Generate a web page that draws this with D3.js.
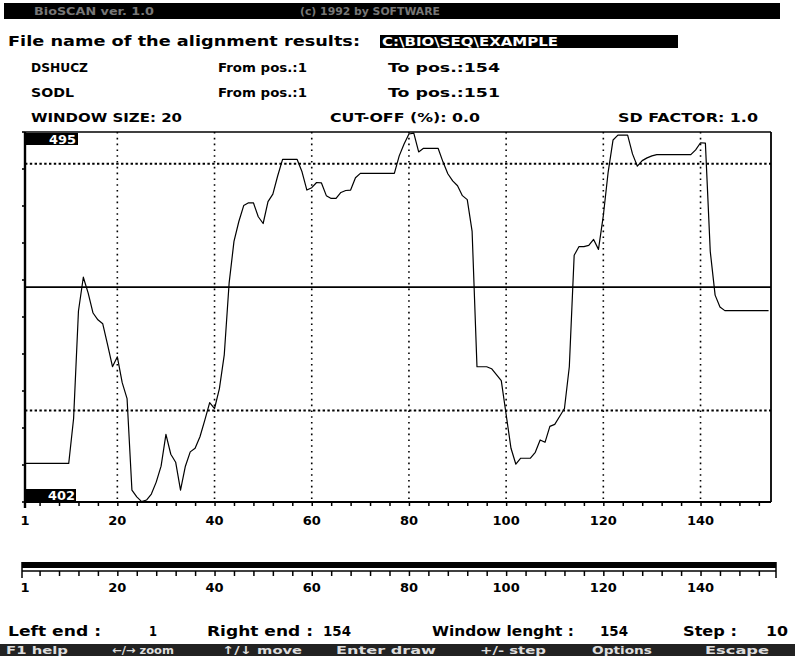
<!DOCTYPE html>
<html>
<head>
<meta charset="utf-8">
<script src="https://cdn.jsdelivr.net/npm/d3@7"></script>
<style>
html,body{margin:0;padding:0;background:#fff;}
svg{display:block;}
</style>
</head>
<body>
<svg id="chart" width="795" height="656"></svg>
<script>
// ---------- data ----------
const positions = d3.range(1, 155); // sequence positions 1..154
const values = [
 411.7,411.7,411.7,411.7,411.7,411.7,411.7,411.7,411.7,411.7,
 423,450,458.5,454.5,449.5,447.8,446.8,441.5,436,438.5,
 432,428,405,403.3,402.1,402.5,404,407,411,419,
 414,412,405,411,414.6,415.5,418.4,422.6,427,425.5,
 430.5,439,457,467.5,472.5,476.5,477.2,477.2,473.7,472,
 477.5,479.4,484,488.1,488.1,488.1,488.1,485,480.4,481,
 482.3,482.2,479,478.3,478.3,479.8,480.3,480.4,483.5,484.6,
 484.6,484.6,484.6,484.6,484.6,484.6,484.6,489,492,494.5,
 494.7,490,490.9,490.9,490.9,490.9,487.5,484.5,482.7,481.5,
 479,478,470,436,436,436,435.5,434,432.5,424,
 415.5,411.5,413,413,413,414.5,417.6,417,421,421.5,
 423.5,425.5,436,464,466.2,466.2,466.5,468,465.5,474,
 485,493,494.2,494.2,494.2,489.5,486.4,487.8,488.5,489,
 489.3,489.3,489.3,489.3,489.3,489.3,489.3,489.3,490.5,492.3,
 492.2,465,454,451,450.1,450.1,450.1,450.1,450.1,450.1,
 450.1,450.1,450.1,450.1
];
const yMin = 402, yMax = 495;
const meanValue = 456;
const sdValues = [425, 487];
const xTickLabels = [1, 20, 40, 60, 80, 100, 120, 140];
const xGridPositions = [20, 40, 60, 80, 100, 120, 140];

const headerLeft = "BioSCAN ver. 1.0";
const headerMid = "(c) 1992 by SOFTWARE";
const fileLabel = "File name of the alignment results:";
const fileName = "C:\\BIO\\SEQ\\EXAMPLE";
const seqNames = ["DSHUCZ", "SODL"];
const seqFrom = ["From pos.:1", "From pos.:1"];
const seqTo = ["To pos.:154", "To pos.:151"];
const paramTexts = ["WINDOW SIZE: 20", "CUT-OFF (%): 0.0", "SD FACTOR: 1.0"];
const statusTexts = ["Left end :", "1", "Right end :", "154", "Window lenght :", "154", "Step :", "10"];
const menuTexts = ["F1 help", "\u2190/\u2192 zoom", "\u2191/\u2193 move", "Enter draw", "+/- step", "Options", "Escape"];

// ---------- setup ----------
const svg = d3.select("#chart");
const FONT = "'DejaVu Sans', 'Liberation Sans', sans-serif";

function txt(g, x, y, s, w, size, fill, anchor) {
  const t = g.append("text")
    .attr("x", x).attr("y", y)
    .attr("font-family", FONT)
    .attr("font-weight", "bold")
    .attr("font-size", size || 13)
    .attr("fill", fill || "#000")
    .text(s);
  if (anchor) t.attr("text-anchor", anchor);
  if (w) t.attr("textLength", w).attr("lengthAdjust", "spacingAndGlyphs");
  return t;
}

const L = 25, R = 771, T = 132, B = 502;
const x = d3.scaleLinear().domain([1, 154.5]).range([L, R]);
const y = d3.scaleLinear().domain([yMin, yMax]).range([B, T]);

// ---------- header ----------
const hdr = svg.append("g");
hdr.append("rect").attr("x", 4).attr("y", 3).attr("width", 776).attr("height", 16).attr("fill", "#000");
txt(hdr, 34, 15, headerLeft, 120, 10, "#777");
txt(hdr, 300, 15, headerMid, 140, 10, "#777");

txt(hdr, 8, 46, fileLabel, 352, 14);
hdr.append("rect").attr("x", 380).attr("y", 35).attr("width", 298).attr("height", 13).attr("fill", "#000");
txt(hdr, 382, 46, fileName, 176, 12, "#fff");

const rowY = [72, 97];
const nameW = [57, 43];
seqNames.forEach((n, i) => {
  txt(hdr, 31, rowY[i], n, nameW[i], 13);
  txt(hdr, 218, rowY[i], seqFrom[i], 89, 13);
  txt(hdr, 388, rowY[i], seqTo[i], 112, 13);
});
txt(hdr, 31, 122, paramTexts[0], 151, 13);
txt(hdr, 330, 122, paramTexts[1], 150, 13);
txt(hdr, 618, 122, paramTexts[2], 140, 13);

// ---------- plot ----------
const plot = svg.append("g");

// vertical dotted grid
plot.selectAll("line.vg").data(xGridPositions).join("line")
  .attr("x1", d => x(d)).attr("x2", d => x(d))
  .attr("y1", T).attr("y2", B)
  .attr("stroke", "#000").attr("stroke-width", 1.6)
  .attr("stroke-dasharray", "1.6,4.2");

// sd dotted lines
plot.selectAll("line.sd").data(sdValues).join("line")
  .attr("x1", L).attr("x2", R)
  .attr("y1", d => y(d)).attr("y2", d => y(d))
  .attr("stroke", "#000").attr("stroke-width", 2)
  .attr("stroke-dasharray", "2.4,2.4");

// mean line
plot.append("line")
  .attr("x1", L).attr("x2", R)
  .attr("y1", y(meanValue)).attr("y2", y(meanValue))
  .attr("stroke", "#000").attr("stroke-width", 1.8);

// frame
plot.append("line").attr("x1", L).attr("x2", R).attr("y1", T).attr("y2", T).attr("stroke", "#000").attr("stroke-width", 1.6);
plot.append("line").attr("x1", R).attr("x2", R).attr("y1", T).attr("y2", B).attr("stroke", "#000").attr("stroke-width", 1.8);
plot.append("line").attr("x1", L).attr("x2", L).attr("y1", T).attr("y2", B + 6).attr("stroke", "#000").attr("stroke-width", 2.4);

// y ticks (left side)
const yTicks = d3.range(11).map(i => yMin + i * (yMax - yMin) / 10);
plot.selectAll("line.yt").data(yTicks).join("line")
  .attr("x1", L - 3).attr("x2", L)
  .attr("y1", d => y(d)).attr("y2", d => y(d))
  .attr("stroke", "#000").attr("stroke-width", 1.6);

// x axis
const xAxis = d3.axisBottom(x)
  .tickValues(d3.range(4, 155, 4))
  .tickSize(4)
  .tickFormat("");
const xa = plot.append("g").attr("transform", `translate(0,${B})`).call(xAxis);
xa.select(".domain").attr("stroke", "#000").attr("stroke-width", 2).attr("d", `M${L},0H${R}`);
xa.selectAll(".tick line").attr("stroke", "#000").attr("stroke-width", 1.5);

plot.selectAll("text.xl").data(xTickLabels).join("text")
  .attr("x", d => x(d))
  .attr("y", 525)
  .attr("text-anchor", "middle")
  .attr("font-family", FONT).attr("font-weight", "bold").attr("font-size", 13)
  .text(d => d);

// data line
const line = d3.line()
  .x((d, i) => x(positions[i]))
  .y(d => y(d));
plot.append("path")
  .datum(values)
  .attr("d", line)
  .attr("fill", "none")
  .attr("stroke", "#000")
  .attr("stroke-width", 1.2)
  .attr("stroke-linejoin", "round");

// y range labels
plot.append("rect").attr("x", L + 1).attr("y", T + 1).attr("width", 52).attr("height", 12).attr("fill", "#000");
txt(plot, L + 51, T + 12, String(yMax), 27, 12, "#fff", "end");
plot.append("rect").attr("x", L + 1).attr("y", B - 13).attr("width", 50).attr("height", 12).attr("fill", "#000");
txt(plot, L + 50, B - 2, String(yMin), 27, 12, "#fff", "end");

// ---------- lower scroll ruler ----------
const ruler = svg.append("g");
ruler.append("rect").attr("x", 22).attr("y", 562).attr("width", 754).attr("height", 6).attr("fill", "#000");
ruler.append("line").attr("x1", 22).attr("x2", 776).attr("y1", 571).attr("y2", 571).attr("stroke", "#000").attr("stroke-width", 1.5);
ruler.append("line").attr("x1", 22).attr("x2", 22).attr("y1", 562).attr("y2", 578).attr("stroke", "#000").attr("stroke-width", 1.5);
ruler.append("line").attr("x1", 776).attr("x2", 776).attr("y1", 562).attr("y2", 578).attr("stroke", "#000").attr("stroke-width", 1.5);
const rAxis = d3.axisBottom(x).tickValues(d3.range(4, 155, 4)).tickSize(5).tickFormat("");
const ra = ruler.append("g").attr("transform", "translate(0,571)").call(rAxis);
ra.select(".domain").remove();
ra.selectAll(".tick line").attr("stroke", "#000").attr("stroke-width", 1.5);
ruler.selectAll("text.rl").data(xTickLabels).join("text")
  .attr("x", d => x(d))
  .attr("y", 592)
  .attr("text-anchor", "middle")
  .attr("font-family", FONT).attr("font-weight", "bold").attr("font-size", 13)
  .text(d => d);

// ---------- status line ----------
const st = svg.append("g");
const stX = [8, 149, 207, 323, 432, 600, 683, 766];
const stW = [93, 8, 106, 28, 142, 28, 54, 22];
statusTexts.forEach((s, i) => txt(st, stX[i], 636, s, stW[i], 14));

// ---------- menu bar ----------
const mb = svg.append("g");
mb.append("rect").attr("x", 0).attr("y", 644).attr("width", 795).attr("height", 12).attr("fill", "#222");
const mX = [6, 112, 222, 336, 480, 592, 705];
const mW = [62, 62, 80, 100, 66, 60, 64];
menuTexts.forEach((s, i) => txt(mb, mX[i], 654, s, mW[i], 11, "#ddd"));
</script>
</body>
</html>
